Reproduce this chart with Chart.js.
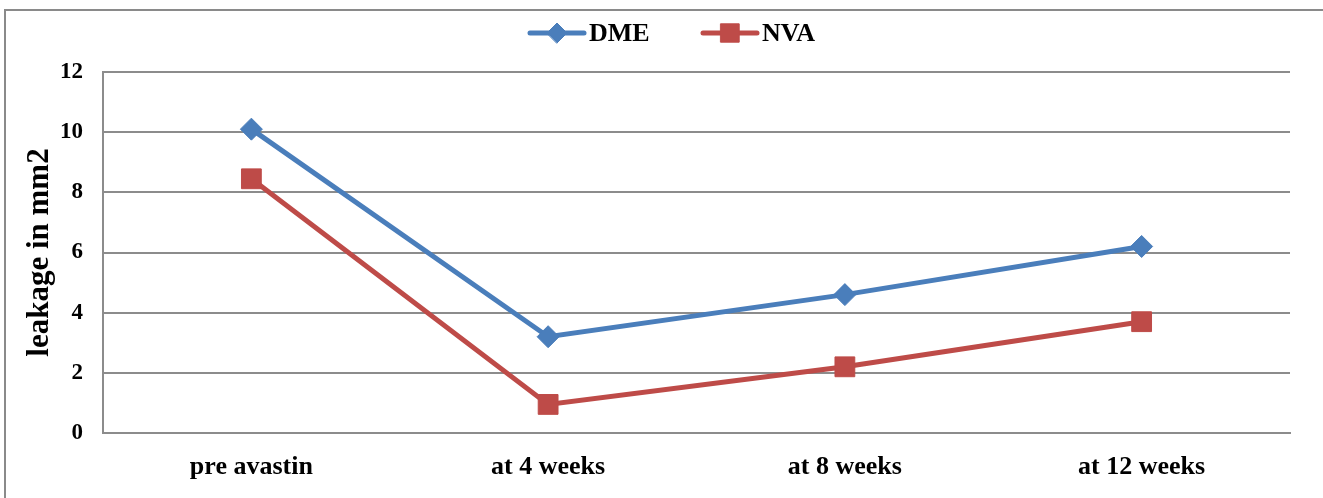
<!DOCTYPE html>
<html>
<head>
<meta charset="utf-8">
<script src="https://cdn.jsdelivr.net/npm/chart.js@4.4.1/dist/chart.umd.min.js"></script>
<style>
  body { margin: 0; background: #fff; }
  #wrap { width: 1323px; height: 498px; position: relative; }
</style>
</head>
<body>
<div id="wrap"><canvas id="chart"></canvas></div>
<script>
const categories = ["pre avastin", "at 4 weeks", "at 8 weeks", "at 12 weeks"];
const dmeValues = [10.1, 3.2, 4.6, 6.2];
const nvaValues = [8.45, 0.95, 2.2, 3.7];
const yTicks = [0, 2, 4, 6, 8, 10, 12];

const FONT = "'Liberation Serif', 'Times New Roman', serif";
const BLUE = "#4a7ebb";
const RED = "#be4b48";
const GRID = "#8c8c8c";

// white page with the frame line at top and left
const frame = {
  id: "frame",
  beforeDraw(c) {
    const ctx = c.ctx;
    ctx.save();
    ctx.fillStyle = "#fff";
    ctx.fillRect(0, 0, c.width, c.height);
    ctx.strokeStyle = "#8a8a8a";
    ctx.lineWidth = 2;
    ctx.beginPath();
    ctx.moveTo(5, c.height);
    ctx.lineTo(5, 10);
    ctx.lineTo(c.width, 10);
    ctx.stroke();
    ctx.restore();
  }
};

// legend entries drawn as line + marker, like the series
const lineLegend = {
  id: "lineLegend",
  afterDraw(c) {
    const ctx = c.ctx;
    const starts = [530, 703];
    const radii = [10, 13];
    const y = 33;
    ctx.save();
    c.data.datasets.forEach((ds, i) => {
      const x0 = starts[i];
      ctx.strokeStyle = ds.borderColor;
      ctx.lineWidth = 5;
      ctx.lineCap = "round";
      ctx.beginPath();
      ctx.moveTo(x0, y);
      ctx.lineTo(x0 + 54, y);
      ctx.stroke();
      ctx.fillStyle = ds.pointBackgroundColor;
      ctx.strokeStyle = ds.pointBorderColor;
      ctx.lineWidth = 1;
      Chart.helpers.drawPoint(ctx, {
        pointStyle: ds.pointStyle,
        radius: radii[i],
        borderWidth: 1
      }, x0 + 27, y);
      ctx.fillStyle = "#000";
      ctx.font = "bold 26px " + FONT;
      ctx.textBaseline = "middle";
      ctx.fillText(ds.label, x0 + 59, y + 1);
    });
    ctx.restore();
  }
};

const series = [
  { label: "DME", data: dmeValues, color: BLUE, style: "rectRot", r: 11 },
  { label: "NVA", data: nvaValues, color: RED, style: "rect", r: 14 }
];

new Chart(document.getElementById("chart"), {
  type: "line",
  data: {
    labels: categories,
    datasets: series.map(s => ({
      label: s.label,
      data: s.data,
      borderColor: s.color,
      backgroundColor: s.color,
      pointBackgroundColor: s.color,
      pointBorderColor: s.color,
      borderWidth: 5,
      pointStyle: s.style,
      pointRadius: s.r,
      pointHoverRadius: s.r,
      pointBorderWidth: 1,
      tension: 0
    }))
  },
  options: {
    responsive: true,
    maintainAspectRatio: false,
    animation: false,
    layout: { padding: { left: 10, top: 72, right: 33, bottom: 0 } },
    plugins: {
      legend: { display: false },
      tooltip: { enabled: false }
    },
    scales: {
      x: {
        offset: true,
        grid: { display: false, drawTicks: false },
        border: { color: GRID, width: 2 },
        ticks: {
          color: "#000",
          font: { family: FONT, size: 26, weight: "bold" },
          padding: 19,
          maxRotation: 0
        },
        afterFit(s) { s.height = 65; }
      },
      y: {
        min: 0,
        max: 12,
        afterBuildTicks(s) { s.ticks = yTicks.map(v => ({ value: v })); },
        grid: { color: GRID, lineWidth: 2, drawTicks: false },
        border: { color: GRID, width: 2 },
        ticks: {
          color: "#000",
          font: { family: FONT, size: 23, weight: "bold" },
          padding: 20
        },
        title: {
          display: true,
          text: "leakage in mm2",
          color: "#000",
          font: { family: FONT, size: 31, weight: "bold" },
          padding: { top: 11, bottom: 0 }
        },
        afterFit(s) { s.width = 93; }
      }
    }
  },
  plugins: [frame, lineLegend]
});
</script>
</body>
</html>
